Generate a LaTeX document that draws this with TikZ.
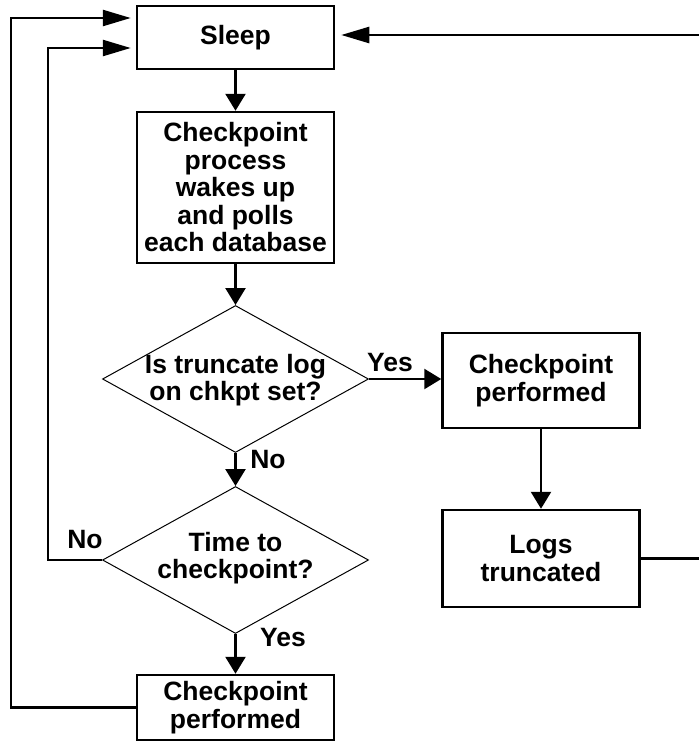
\documentclass[tikz,border=0pt]{standalone}
\usepackage{fontspec}
\setmainfont{Liberation Sans}
\usetikzlibrary{arrows.meta,shapes.geometric}

\begin{document}
\begin{tikzpicture}[
  x=1pt, y=-1pt,
  txt/.style={font=\bfseries\fontsize{26.5}{27.5}\selectfont, align=center, inner sep=0pt},
  box/.style={draw, line width=2.5pt, minimum width=197pt, inner sep=0pt},
  decision/.style={draw, diamond, line width=1pt, inner sep=0pt,
    minimum width=266pt, minimum height=147pt},
  conn/.style={line width=2.5pt},
  tipshort/.style={-{Triangle[length=17pt,width=20pt]}},
  tiplong/.style={-{Triangle[length=28pt,width=16pt]}},
  lbl/.style={font=\bfseries\fontsize{26.5}{27.5}\selectfont, inner sep=0pt}
]
\useasboundingbox (0,0) rectangle (699,750);

% process boxes
\node[box, minimum height=63pt, txt] (sleep) at (235.5,37.5) {Sleep};
\node[box, minimum height=151pt, txt] (poll) at (235.5,187.5)
  {Checkpoint\\process\\wakes up\\and polls\\each database};
\node[box, minimum height=95pt, txt] (cpright) at (541,380.5)
  {Checkpoint\\performed};
\node[box, minimum height=97pt, txt] (logs) at (541,558.5)
  {Logs\\truncated};
\node[box, minimum height=65pt, txt] (cpleft) at (235.5,707.5)
  {Checkpoint\\performed};

% decisions
\node[decision] (dtrunc) at (235.5,379) {};
\node[txt] (dtrunctext) at (235.5,380) {Is truncate log\\on chkpt set?};
\node[decision] (dtime) at (235.5,560) {};
\node[txt] (dtimetext) at (235.5,558) {Time to\\checkpoint?};

% main flow
\draw[conn, tipshort] (sleep.south) -- (poll.north);
\draw[conn, tipshort] (poll.south) -- (dtrunc.north);
\draw[conn, tipshort] (dtrunc.east) -- (dtrunc.east -| cpright.west);
\draw[conn, tipshort] (cpright.south) -- (logs.north);
\draw[conn, tipshort] (dtrunc.south) -- (dtime.north);
\draw[conn, tipshort] (dtime.south) -- (cpleft.north);

% loops back to sleep
\draw[conn, tiplong, shorten >=5pt] (cpleft.west) -- ++(-125,0)
  |- ([yshift=19.5pt]sleep.west);
\draw[conn, tiplong, shorten >=5pt] (dtime.west) -- ++(-54,0)
  |- ([yshift=-10.5pt]sleep.west);
\draw[conn, tiplong, shorten >=6pt] (logs.east) -- ++(59,0)
  |- ([yshift=2.5pt]sleep.east);

% branch labels
\node[lbl] (yestrunc) at (390,363) {Yes};
\node[lbl] (notrunc) at (268,460) {No};
\node[lbl] (notime) at (85,540) {No};
\node[lbl] (yestime) at (283,638) {Yes};
\end{tikzpicture}
\end{document}
